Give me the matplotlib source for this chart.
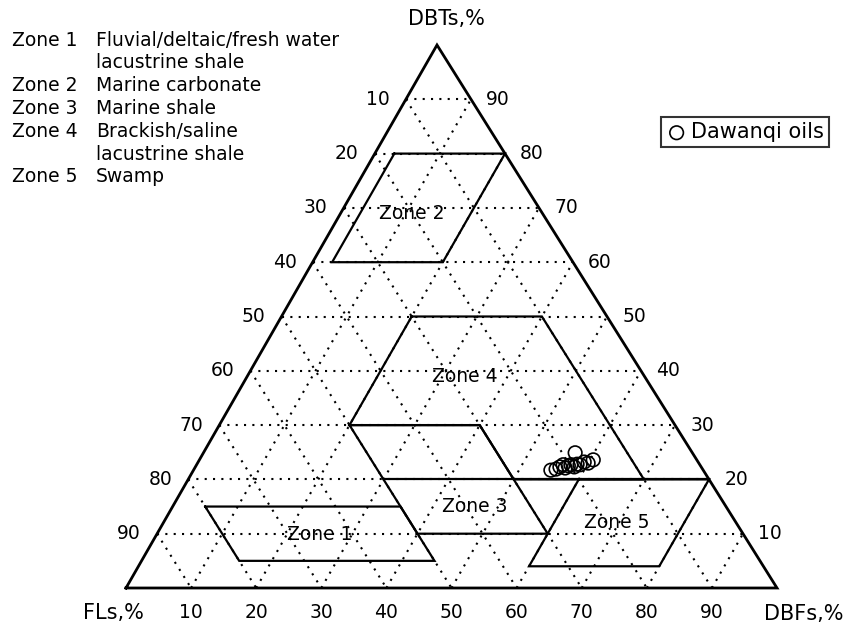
import matplotlib
matplotlib.use("Agg")
import matplotlib.pyplot as plt

plt.rcParams['font.family'] = ['DejaVu Sans']

# Dawanqi oils (percent)
dbt = [21.7, 21.9, 22.3, 22.7, 22.1, 22.5, 22.7, 22.3, 22.8, 22.7, 23.2, 23.0, 23.6, 24.9]
dbf = [54.9, 55.6, 56.0, 56.3, 56.9, 57.2, 57.5, 58.2, 58.4, 58.9, 59.3, 60.0, 60.5, 57.1]
fl = [23.4, 22.5, 21.7, 21.0, 21.0, 20.3, 19.8, 19.5, 18.8, 18.4, 17.5, 17.0, 15.9, 18.0]

# Zone outlines, vertices as (DBF %, DBT %)
zone1 = [(5, 15), (35, 15), (45, 5), (15, 5)]
zone2 = [(3, 80), (20, 80), (20, 60), (3, 60)]
zone3 = [(20, 30), (40, 30), (60, 10), (40, 10)]
zone4 = [(20, 50), (40, 50), (70, 20), (50, 20), (40, 30), (20, 30)]
zone5 = [(60, 20), (80, 20), (80, 4), (60, 4)]
divider = [(30, 20), (80, 20)]

grid_ticks = [10, 20, 30, 40, 50, 60, 70, 80, 90]

zone_names = ["Zone 1", "Zone 2", "Zone 3", "Zone 4", "Zone 5"]
zone_desc = ["Fluvial/deltaic/fresh water\nlacustrine shale",
             "Marine carbonate",
             "Marine shale",
             "Brackish/saline\nlacustrine shale",
             "Swamp"]

# triangle geometry: FL corner at (0,0), DBF corner at (1,0), DBT apex at (C,H)
C = 311 / 651
H = 543 / 651


def tern(f, t):
    """DBF fraction f, DBT fraction t -> cartesian."""
    return f + t * C, t * H


def tern_pct(pts):
    xs, ys = [], []
    for f, t in pts:
        x, y = tern(f / 100, t / 100)
        xs.append(x)
        ys.append(y)
    return xs, ys


def px(xp, yp):
    return (xp - 126) / 651, (588 - yp) / 651


fig = plt.figure(figsize=(8.56, 6.28), dpi=100)
ax = fig.add_axes([0, 0, 1, 1])
ax.set_xlim(-126 / 651, 730 / 651)
ax.set_ylim(-40 / 651, 588 / 651)
ax.axis('off')

grid_kw = dict(color='black', lw=1.5, linestyle=(0, (1, 3.0)), zorder=1)
for v in grid_ticks:
    k = v / 100
    # constant DBT
    x, y = zip(tern(0, k), tern(1 - k, k))
    ax.plot(x, y, **grid_kw)
    # constant DBF
    x, y = zip(tern(k, 0), tern(k, 1 - k))
    ax.plot(x, y, **grid_kw)
    # constant FL
    x, y = zip(tern(0, 1 - k), tern(1 - k, 0))
    ax.plot(x, y, **grid_kw)

# triangle frame
corners = [tern(0, 0), tern(1, 0), tern(0, 1), tern(0, 0)]
ax.plot([p[0] for p in corners], [p[1] for p in corners], color='black',
        lw=2.0, solid_joinstyle='miter', zorder=3)

zone_kw = dict(color='black', lw=1.6, zorder=2, solid_joinstyle='miter')
for z in [zone1, zone2, zone3, zone4, zone5]:
    xs, ys = tern_pct(z + [z[0]])
    ax.plot(xs, ys, **zone_kw)
xs, ys = tern_pct(divider)
ax.plot(xs, ys, **zone_kw)

# samples
fx, fy = [], []
for a, b, c in zip(dbt, dbf, fl):
    s = a + b + c
    x, y = tern(b / s, a / s)
    fx.append(x)
    fy.append(y)
ax.scatter(fx, fy, s=95, facecolors='none', edgecolors='black', linewidths=1.2,
           zorder=4, label='Dawanqi oils')

# edge tick labels
fs = 13.5
for v in grid_ticks:
    k = v / 100
    ax.annotate(str(v), xy=tern(0, 1 - k), xytext=(-28, 0), textcoords='offset pixels',
                ha='center', va='center', fontsize=fs)
    ax.annotate(str(v), xy=tern(1 - k, k), xytext=(27, 0), textcoords='offset pixels',
                ha='center', va='center', fontsize=fs)
    ax.annotate(str(v), xy=tern(k, 0), xytext=(0, -25), textcoords='offset pixels',
                ha='center', va='center', fontsize=fs)

# corner titles
ax.text(*px(446, 19), "DBTs,%", ha='center', va='center', fontsize=15)
ax.text(*px(113, 613), "FLs,%", ha='center', va='center', fontsize=15)
ax.text(*px(804, 614), "DBFs,%", ha='center', va='center', fontsize=15)

# zone labels inside the triangle
zone_label_pos = [(320, 535), (412, 213), (475, 507), (465, 376), (617, 523)]
for name, (xp, yp) in zip(zone_names, zone_label_pos):
    ax.text(*px(xp, yp), name, ha='center', va='center', fontsize=fs, zorder=5)

# zone key, upper left
row_y = 40
row_step = 22.8
for name, desc in zip(zone_names, zone_desc):
    ax.text(*px(12, row_y), name, ha='left', va='center', fontsize=fs)
    for line in desc.split("\n"):
        ax.text(*px(96, row_y), line, ha='left', va='center', fontsize=fs)
        row_y += row_step

leg = ax.legend(loc='upper left', bbox_to_anchor=(661 / 856, 1 - 117 / 628),
                bbox_transform=fig.transFigure, frameon=True, fancybox=False,
                edgecolor='black', fontsize=15, borderpad=0.25, handletextpad=0.2,
                handlelength=1.0, borderaxespad=0, scatterpoints=1)
leg.get_frame().set_linewidth(1.5)

fig.savefig("out.png", dpi=100)
